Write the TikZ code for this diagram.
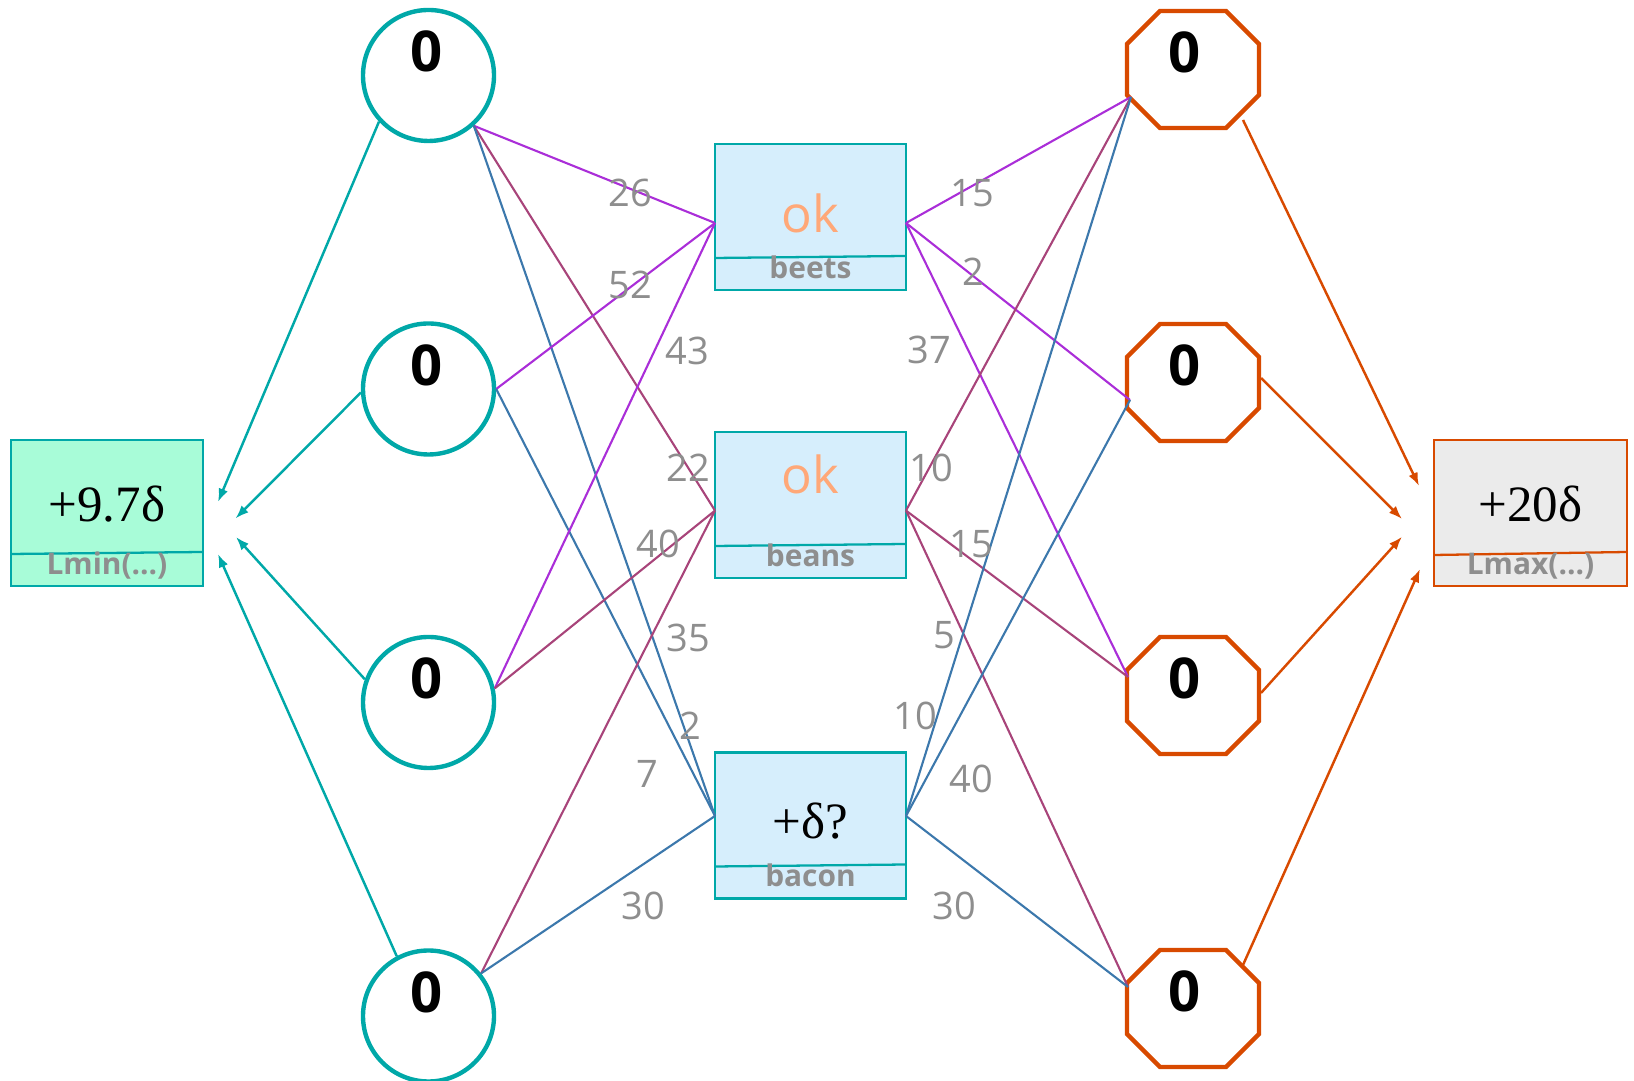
\documentclass[tikz,border=0pt]{standalone}
\usepackage{fontspec}
\setmainfont{Open Sans}
\newfontfamily\valuefont{Liberation Serif}
\usetikzlibrary{calc,arrows.meta}

\definecolor{cyanline}{HTML}{00A8A8}
\definecolor{rustline}{HTML}{D84A00}
\definecolor{edgepurple}{HTML}{AA2ED8}
\definecolor{edgeplum}{HTML}{A8447A}
\definecolor{edgesteel}{HTML}{3C78AC}
\definecolor{boxblue}{HTML}{D6EEFC}
\definecolor{mintfill}{HTML}{A8FCD8}
\definecolor{greyfill}{HTML}{EBEBEB}
\definecolor{labelgrey}{HTML}{8E8E8E}
\definecolor{okorange}{HTML}{FFA878}

\tikzset{
  ring/.style={circle, draw=cyanline, line width=1.25pt, minimum size=1.31cm, inner sep=0pt},
  octo/.style={rectangle, minimum width=1.32cm, minimum height=1.17cm, inner sep=0pt, outer sep=0pt},
  zone/.style={rectangle, draw=cyanline, fill=boxblue, line width=0.65pt,
    minimum width=1.91cm, minimum height=1.46cm, inner sep=0pt, outer sep=0pt},
  num/.style={inner sep=0pt, font=\fontsize{16}{18}\selectfont\bfseries},
  tag/.style={inner sep=0pt, anchor=base, text=labelgrey, font=\fontsize{8.5}{10}\selectfont\bfseries},
  okval/.style={inner sep=0pt, anchor=base, text=okorange, font=\fontsize{14.5}{16}\selectfont},
  deltaval/.style={inner sep=0pt, anchor=base, font=\valuefont\fontsize{14.5}{16}\selectfont},
  cost/.style={inner sep=0pt, text=labelgrey, font=\fontsize{10.8}{12}\selectfont},
  feed/.style={line width=0.7pt, -{Latex[length=3.8pt,width=2.8pt]}},
  wire/.style={line width=0.6pt}
}

\begin{document}
\begin{tikzpicture}[yscale=-1]
  \useasboundingbox (0,0) rectangle (16.34,10.81);

  % Cercles d'entrée
  \foreach \i/\y in {1/0.755, 2/3.89, 3/7.025, 4/10.16}{
    \node[ring] (c\i) at (4.285,\y) {};
    \node[num] (c\i-num) at ($(c\i)+(-0.015,-0.24)$) {0};
  }

  % Octogones de sortie (coins coupés de 0.33)
  \foreach \i/\y in {1/0.695, 2/3.825, 3/6.955, 4/10.085}{
    \node[octo] (o\i) at (11.93,\y) {};
    \draw[rustline, line width=1.25pt]
      ($(o\i.north west)+(0.33,0)$) -- ($(o\i.north east)+(-0.33,0)$)
      -- ($(o\i.north east)+(0,0.33)$) -- ($(o\i.south east)+(0,-0.33)$)
      -- ($(o\i.south east)+(-0.33,0)$) -- ($(o\i.south west)+(0.33,0)$)
      -- ($(o\i.south west)+(0,-0.33)$) -- ($(o\i.north west)+(0,0.33)$) -- cycle;
    \node[num] (o\i-num) at ($(o\i)+(-0.08,-0.175)$) {0};
  }

  % Boîtes du milieu
  \node[zone] (beets) at (8.105,2.17) {};
  \node[zone] (beans) at (8.105,5.05) {};
  \node[zone] (bacon) at (8.105,8.255) {};
  \node[okval] (beets-val) at ($(beets.center)+(0,0.16)$) {ok};
  \node[okval] (beans-val) at ($(beans.center)+(0,-0.11)$) {ok};
  \node[deltaval] (bacon-val) at ($(bacon.center)+(0,0.135)$) {+δ?};

  % Bornes gauche et droite
  \node[zone, fill=mintfill, minimum width=1.92cm] (lmin) at (1.07,5.13) {};
  \node[zone, draw=rustline, fill=greyfill, minimum width=1.93cm] (lmax) at (15.305,5.13) {};
  \node[deltaval] (lmin-val) at ($(lmin.center)+(0,0.087)$) {+9.7δ};
  \node[deltaval] (lmax-val) at ($(lmax.center)+(0,0.087)$) {+20δ};

  % Séparateurs et étiquettes
  \foreach \b in {beets, beans, bacon}{
    \draw[cyanline, line width=0.65pt] ($(\b.south west)+(0,-0.32)$) -- ($(\b.south east)+(0,-0.34)$);
    \node[tag] (\b-tag) at ($(\b.south)+(0,-0.115)$) {\b};
  }
  \draw[cyanline, line width=0.65pt] ($(lmin.south west)+(0,-0.32)$) -- ($(lmin.south east)+(0,-0.34)$);
  \node[tag] (lmin-tag) at ($(lmin.south)+(0,-0.115)$) {Lmin(...)};
  \draw[rustline, line width=0.65pt] ($(lmax.south west)+(0,-0.31)$) -- ($(lmax.south east)+(0,-0.34)$);
  \node[tag] (lmax-tag) at ($(lmax.south)+(0,-0.115)$) {Lmax(...)};

  % Points d'accroche
  \coordinate (beets-l) at ($(beets.west)+(0,0.06)$);
  \coordinate (beets-r) at ($(beets.east)+(0,0.06)$);
  \coordinate (beans-l) at ($(beans.west)+(0,0.056)$);
  \coordinate (beans-r) at ($(beans.east)+(0,0.056)$);
  \coordinate (bacon-l) at ($(bacon.west)+(0,-0.095)$);
  \coordinate (bacon-r) at ($(bacon.east)+(0,-0.095)$);
  \coordinate (o1-in) at ($(o1)+(-0.62,0.275)$);
  \coordinate (o2-in) at ($(o2)+(-0.63,0.175)$);
  \coordinate (o3-in) at ($(o3)+(-0.65,-0.185)$);
  \coordinate (o4-in) at ($(o4)+(-0.65,-0.215)$);
  \coordinate (o1-out) at ($(o1)+(0.50,0.505)$);
  \coordinate (o2-out) at ($(o2)+(0.68,-0.045)$);
  \coordinate (o3-out) at ($(o3)+(0.68,-0.025)$);
  \coordinate (o4-out) at ($(o4)+(0.50,-0.435)$);

  % Flèches vers Lmin
  \coordinate (lmin-a) at (2.18,5.02);
  \coordinate (lmin-b) at (2.355,5.185);
  \coordinate (lmin-c) at (2.36,5.37);
  \coordinate (lmin-d) at (2.18,5.54);
  \draw[feed, cyanline] (c1.223) -- (lmin-a);
  \draw[feed, cyanline] (c2.183) -- (lmin-b);
  \draw[feed, cyanline] (c3.160) -- (lmin-c);
  \draw[feed, cyanline] (c4.118) -- (lmin-d);

  % Flèches vers Lmax
  \coordinate (lmax-a) at (14.19,4.86);
  \coordinate (lmax-b) at (14.02,5.19);
  \coordinate (lmax-c) at (14.02,5.367);
  \coordinate (lmax-d) at (14.20,5.69);
  \draw[feed, rustline] (o1-out) -- (lmax-a);
  \draw[feed, rustline] (o2-out) -- (lmax-b);
  \draw[feed, rustline] (o3-out) -- (lmax-c);
  \draw[feed, rustline] (o4-out) -- (lmax-d);

  % Arêtes gauche
  \draw[wire, edgepurple] (c1.312) -- (beets-l);
  \draw[wire, edgeplum]   (c1.312) -- (beans-l);
  \draw[wire, edgesteel]  (c1.312) -- (bacon-l);
  \draw[wire, edgepurple] (c2.east) -- (beets-l);
  \draw[wire, edgesteel]  (c2.east) -- (bacon-l);
  \draw[wire, edgepurple] (c3.12) -- (beets-l);
  \draw[wire, edgeplum]   (c3.12) -- (beans-l);
  \draw[wire, edgeplum]   (c4.39) -- (beans-l);
  \draw[wire, edgesteel]  (c4.39) -- (bacon-l);

  % Arêtes droite
  \draw[wire, edgepurple] (beets-r) -- (o1-in);
  \draw[wire, edgepurple] (beets-r) -- (o2-in);
  \draw[wire, edgepurple] (beets-r) -- (o3-in);
  \draw[wire, edgeplum]   (beans-r) -- (o1-in);
  \draw[wire, edgeplum]   (beans-r) -- (o3-in);
  \draw[wire, edgeplum]   (beans-r) -- (o4-in);
  \draw[wire, edgesteel]  (bacon-r) -- (o1-in);
  \draw[wire, edgesteel]  (bacon-r) -- (o2-in);
  \draw[wire, edgesteel]  (bacon-r) -- (o4-in);

  % Coûts
  \foreach \n/\x/\y/\v in {l1/6.30/1.93/26, l2/6.30/2.85/52, l3/6.87/3.51/43,
      l4/6.88/4.68/22, l5/6.585/5.44/40, l6/6.88/6.38/35, l7/6.90/7.26/2,
      l8/6.47/7.74/7, l9/6.43/9.055/30,
      r1/9.72/1.93/15, r2/9.73/2.72/2, r3/9.29/3.50/37, r4/9.31/4.68/10,
      r5/9.71/5.44/15, r6/9.44/6.356/5, r7/9.15/7.16/10, r8/9.71/7.79/40,
      r9/9.545/9.055/30}
    \node[cost] (cost-\n) at (\x,\y) {\v};

\end{tikzpicture}
\end{document}
